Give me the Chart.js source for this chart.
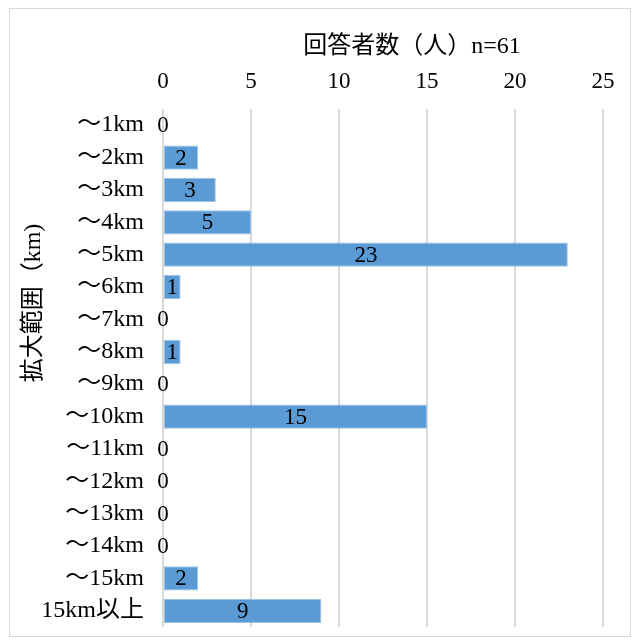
<!DOCTYPE html>
<html>
<head>
<meta charset="utf-8">
<script src="https://cdn.jsdelivr.net/npm/chart.js@4"></script>
<style>
  body { margin: 0; background: #fff; }
  #frame {
    position: absolute; left: 9px; top: 8px;
    width: 622px; height: 629px;
    border: 1px solid #d9d9d9; box-sizing: border-box;
  }
  #wrap { position: absolute; left: 0; top: 0; width: 632px; height: 644px; }
</style>
</head>
<body>
<div id="frame"></div>
<div id="wrap"><canvas id="chart"></canvas></div>
<script>
const FONT = '"Liberation Serif", "Noto Sans CJK JP", serif';

const categories = [
  "～1km", "～2km", "～3km", "～4km", "～5km", "～6km", "～7km", "～8km",
  "～9km", "～10km", "～11km", "～12km", "～13km", "～14km", "～15km", "15km以上"
];
const counts = [0, 2, 3, 5, 23, 1, 0, 1, 0, 15, 0, 0, 0, 0, 2, 9];
const xTicks = [0, 5, 10, 15, 20, 25];
const xTitle = "回答者数（人）n=61";
const yTitle = "拡大範囲（km)";

// value labels centred in each bar
const barLabels = {
  id: "barLabels",
  afterDatasetsDraw(chart) {
    const ctx = chart.ctx;
    const meta = chart.getDatasetMeta(0);
    ctx.save();
    ctx.font = "23px " + FONT;
    ctx.fillStyle = "#000";
    ctx.textAlign = "center";
    ctx.textBaseline = "middle";
    meta.data.forEach((bar, i) => {
      ctx.fillText(String(counts[i]), (bar.x + bar.base) / 2, bar.y + 1);
    });
    ctx.restore();
  },
};

// axis titles, placed like the original (not centred on the plot)
const axisTitles = {
  id: "axisTitles",
  afterDraw(chart) {
    const ctx = chart.ctx;
    const a = chart.chartArea;
    ctx.save();
    ctx.fillStyle = "#000";
    ctx.textAlign = "center";
    ctx.textBaseline = "middle";
    ctx.font = "24px " + FONT;
    ctx.fillText(xTitle, (a.left + a.right) / 2 + 29, a.top - 62);
    ctx.translate(a.left - 129, (a.top + a.bottom) / 2 - 65);
    ctx.rotate(-Math.PI / 2);
    ctx.fillText(yTitle, 0, 0);
    ctx.restore();
  },
};

new Chart(document.getElementById("chart"), {
  type: "bar",
  data: {
    labels: categories,
    datasets: [{
      data: counts,
      backgroundColor: "#5b9bd5",
      borderColor: "#9cc2e6",
      borderWidth: (c) => (c.raw ? 1 : 0),
      borderSkipped: false,
      barPercentage: 0.75,
      categoryPercentage: 1,
    }],
  },
  options: {
    indexAxis: "y",
    responsive: true,
    maintainAspectRatio: false,
    animation: false,
    layout: { padding: { top: 1, right: 29, bottom: 17, left: 0 } },
    plugins: {
      legend: { display: false },
      tooltip: { enabled: false },
    },
    scales: {
      x: {
        position: "top",
        min: 0,
        max: 25,
        afterBuildTicks: (axis) => { axis.ticks = xTicks.map(v => ({ value: v })); },
        afterFit: (axis) => { axis.height = 108; },
        grid: { color: "#d9d9d9", lineWidth: 2, drawTicks: false },
        border: { display: false },
        ticks: { color: "#000", font: { family: FONT, size: 23 }, padding: 13 },
      },
      y: {
        afterFit: (axis) => { axis.width = 163; },
        grid: { display: false, tickLength: 19 },
        border: { display: false },
        ticks: { color: "#000", font: { family: FONT, size: 24 }, padding: 0, autoSkip: false },
      },
    },
  },
  plugins: [barLabels, axisTitles],
});
</script>
</body>
</html>
